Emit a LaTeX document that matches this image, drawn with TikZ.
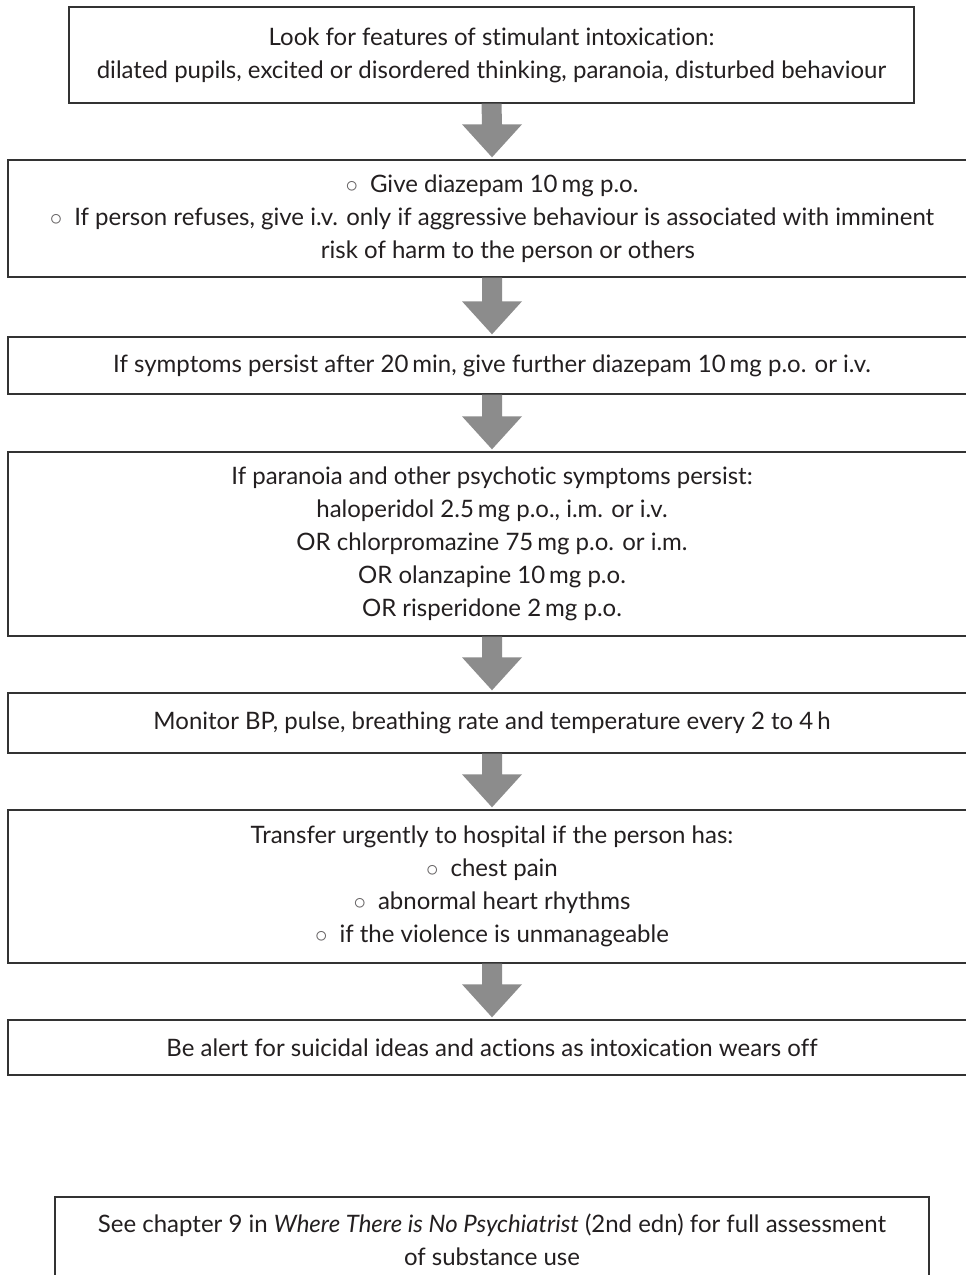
\documentclass[tikz,border=0pt]{standalone}
\usepackage{fontspec}
\setmainfont{Lato}[Ligatures=NoCommon]
\usetikzlibrary{calc}
\definecolor{arrowgray}{HTML}{8C8C8C}
\definecolor{linecol}{HTML}{333333}
\definecolor{txt}{HTML}{231F20}
\newcommand\bul{{\color{txt!70}$\circ$}\hspace{12pt}}
\newcommand\flowarrow[2]{\fill[flow] ($(#1.south)+(-10,0)$) -- ($(#2.north)+(-10,35)$) -- ($(#2.north)+(-30,35)$) -- ($(#2.north)+(0,2)$) -- ($(#2.north)+(30,35)$) -- ($(#2.north)+(10,35)$) -- ($(#1.south)+(10,0)$) -- cycle;}
\begin{document}
\begin{tikzpicture}[x=1pt,y=1pt,
  box/.style={draw=linecol, line width=1.4pt, align=center, inner sep=0pt, text=txt,
    font=\fontsize{24}{33}\selectfont},
  flow/.style={fill=arrowgray}]
\useasboundingbox (0,0) rectangle (966,-1275);
\fill[white] (0,0) rectangle (966,-1275);

\node[box, minimum width=845, minimum height=96] (b1) at (491.5,-55)
  {Look for features of stimulant intoxication:\\
   dilated pupils, excited or disordered thinking, paranoia, disturbed behaviour};

\node[box, minimum width=968, minimum height=117] (b2) at (492,-218.5)
  {\bul Give diazepam 10\,mg p.o.\\
   \bul If person refuses, give i.v. only if aggressive behaviour is associated with imminent\\
   \hspace*{32pt}risk of harm to the person or others};

\node[box, minimum width=968, minimum height=57] (b3) at (492,-365.5)
  {If symptoms persist after 20\,min, give further diazepam 10\,mg p.o. or i.v.};

\node[box, minimum width=968, minimum height=184] (b4) at (492,-544)
  {If paranoia and other psychotic symptoms persist:\\
   haloperidol 2.5\,mg p.o., i.m. or i.v.\\
   OR chlorpromazine 75\,mg p.o. or i.m.\\
   OR olanzapine 10\,mg p.o.\\
   OR risperidone 2\,mg p.o.};

\node[box, minimum width=968, minimum height=60] (b5) at (492,-723)
  {Monitor BP, pulse, breathing rate and temperature every 2 to 4\,h};

\node[box, minimum width=968, minimum height=153] (b6) at (492,-886.5)
  {Transfer urgently to hospital if the person has:\\
   \bul chest pain\\
   \bul abnormal heart rhythms\\
   \bul if the violence is unmanageable};

\node[box, minimum width=968, minimum height=55] (b7) at (492,-1047.5)
  {Be alert for suicidal ideas and actions as intoxication wears off};

\node[box, minimum width=874, minimum height=86] (b8) at (492,-1240)
  {See chapter 9 in \textit{Where There is No Psychiatrist} (2nd edn) for full assessment\\
   of substance use};

\flowarrow{b1}{b2}
\flowarrow{b2}{b3}
\flowarrow{b3}{b4}
\flowarrow{b4}{b5}
\flowarrow{b5}{b6}
\flowarrow{b6}{b7}
\end{tikzpicture}
\end{document}
